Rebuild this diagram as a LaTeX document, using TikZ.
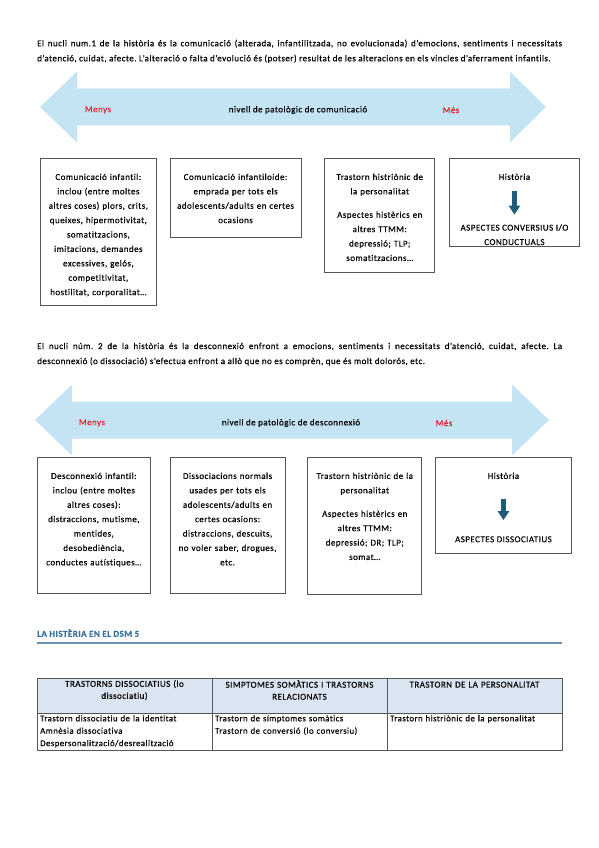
\documentclass[tikz,border=0pt]{standalone}
\usepackage{fontspec}
\setmainfont{Carlito}[LetterSpace=5, Ligatures=NoCommon, FakeBold=0.4]
\usepackage{tikz}
\usetikzlibrary{arrows.meta,positioning}
\frenchspacing

\definecolor{scaleblue}{HTML}{C4E4F4}
\definecolor{menysred}{HTML}{E3212B}
\definecolor{arrowteal}{HTML}{1F5C7A}
\definecolor{titleblue}{HTML}{3470A0}
\definecolor{titlerule}{HTML}{6F8DAE}
\definecolor{headfill}{HTML}{DBE5F1}
\definecolor{boxgray}{HTML}{555555}

\begin{document}
\begin{tikzpicture}[
  x=1pt, y=-1pt,
  para/.style={anchor=north west, inner sep=0pt, text width=525pt, align=justify, font=\fontsize{9}{15}\selectfont},
  box/.style={draw=boxgray, line width=0.7pt, inner sep=0pt, anchor=north west},
  boxtext/.style={inner sep=0pt, align=center, font=\fontsize{9}{14.4}\selectfont},
  scalelabel/.style={font=\fontsize{9}{10}\selectfont},
  tag/.style={scalelabel, text=menysred},
  blockarr/.style={arrowteal, line width=4.5pt, -{Triangle[width=11pt,length=9pt]}},
  hcell/.style={anchor=north, inner sep=0pt, text width=170pt, align=center, font=\fontsize{9}{12}\selectfont},
  bcell/.style={anchor=north west, inner sep=0pt, text width=170pt, align=left, font=\fontsize{8.8}{12.4}\selectfont}
]
  \useasboundingbox (0,0) rectangle (599,848);

  % nucli 1
  \node[para] (nucli1) at (37,39.5) {El nucli num.1 de la història és la comunicació (alterada, infantilitzada, no evolucionada) d'emocions, sentiments i necessitats\linebreak d'atenció, cuidat, afecte. L'alteració o falta d'evolució és (potser) resultat de les alteracions en els vincles d'aferrament infantils.};

  \fill[scaleblue] (40,107) -- (77,71.5) -- (77,88.5) -- (510,88.5) -- (510,71.5) -- (546,107)
    -- (510,142.5) -- (510,125.5) -- (77,125.5) -- (77,142.5) -- cycle;
  \node[tag] (menys1) at (98,110) {Menys};
  \node[scalelabel] (nivell1) at (298,110) {nivell de patològic de comunicació};
  \node[tag] (mes1) at (451,110) {Més};

  \node[box, minimum width=116pt, minimum height=147pt] (infbox) at (40,158) {};
  \node[boxtext, text width=114pt, below=15.5pt of infbox.north] (inf) {Comunicació infantil:\\inclou (entre moltes\\altres coses) plors, crits,\\queixes, hipermotivitat,\\somatitzacions,\\imitacions, demandes\\excessives, gelós,\\competitivitat,\\hostilitat, corporalitat…};

  \node[box, minimum width=131pt, minimum height=79pt, below right=0pt and 13pt of infbox.north east] (idbox) {};
  \node[boxtext, text width=129pt, below=15.5pt of idbox.north] (id) {Comunicació infantiloide:\\emprada per tots els\\adolescents/adults en certes\\ocasions};

  \node[box, minimum width=110pt, minimum height=114pt, below right=0pt and 23pt of idbox.north east] (tpbox1) {};
  \node[boxtext, text width=108pt, below=15.5pt of tpbox1.north] (tp1) {Trastorn histriònic de\\la personalitat\\[9pt]Aspectes histèrics en\\altres TTMM:\\depressió; TLP;\\somatitzacions…};

  \node[box, minimum width=130pt, minimum height=88pt, below right=0pt and 14pt of tpbox1.north east] (histbox1) {};
  \node[boxtext, below=15.5pt of histbox1.north] (hist1) {Història};
  \node[boxtext, below=44pt of hist1] (conv1) {ASPECTES CONVERSIUS I/O\\CONDUCTUALS};
  \draw[blockarr, shorten <=10.5pt, shorten >=9.5pt] (hist1) -- (conv1);

  % nucli 2
  \node[para] (nucli2) at (37,342.5) {El nucli núm. 2 de la història és la desconnexió enfront a emocions, sentiments i necessitats d'atenció, cuidat, afecte. La\linebreak desconnexió (o dissociació) s'efectua enfront a allò que no es comprèn, que és molt dolorós, etc.};

  \fill[scaleblue] (35,420) -- (72,384.5) -- (72,401.5) -- (512,401.5) -- (512,384.5) -- (549,420)
    -- (512,455.5) -- (512,438.5) -- (72,438.5) -- (72,455.5) -- cycle;
  \node[tag] (menys2) at (92,423) {Menys};
  \node[scalelabel] (nivell2) at (291,423) {nivell de patològic de desconnexió};
  \node[tag] (mes2) at (444,423) {Més};

  \node[box, minimum width=113pt, minimum height=136pt] (desbox) at (37,457) {};
  \node[boxtext, text width=111pt, below=15.5pt of desbox.north] (des) {Desconnexió infantil:\\inclou (entre moltes\\altres coses):\\distraccions, mutisme,\\mentides,\\desobediència,\\conductes autístiques…};

  \node[box, minimum width=115pt, minimum height=136pt, below right=0pt and 19pt of desbox.north east] (dnbox) {};
  \node[boxtext, text width=113pt, below=15.5pt of dnbox.north] (dn) {Dissociacions normals\\usades per tots els\\adolescents/adults en\\certes ocasions:\\distraccions, descuits,\\no voler saber, drogues,\\etc.};

  \node[box, minimum width=114pt, minimum height=137pt, below right=0pt and 22pt of dnbox.north east] (tpbox2) {};
  \node[boxtext, text width=112pt, below=15.5pt of tpbox2.north] (tp2) {Trastorn histriònic de la\\personalitat\\[9pt]Aspectes histèrics en\\altres TTMM:\\depressió; DR; TLP;\\somat…};

  \node[box, minimum width=136pt, minimum height=96pt, below right=0pt and 13pt of tpbox2.north east] (histbox2) {};
  \node[boxtext, below=15.5pt of histbox2.north] (hist2) {Història};
  \node[boxtext, below=57pt of hist2] (diss) {ASPECTES DISSOCIATIUS};
  \draw[blockarr, shorten <=19.5pt, shorten >=16pt] (hist2) -- (diss);

  % DSM 5
  \node[anchor=west, inner sep=0pt, font=\fontsize{9}{10}\selectfont\bfseries, text=titleblue] (dsm) at (37,633) {LA HISTÈRIA EN EL DSM 5};
  \draw[titlerule, line width=1.2pt] (37,643) -- (562,643);

  \fill[headfill] (37,678) rectangle (562,713);
  \draw[boxgray, line width=0.6pt] (37,678) rectangle (562,750) (37,713) -- (562,713)
    (212,678) -- (212,750) (387,678) -- (387,750);
  \node[hcell] (h1) at (124.5,680) {TRASTORNS DISSOCIATIUS (lo\\dissociatiu)};
  \node[hcell] (h2) at (299.5,680) {SIMPTOMES SOMÀTICS I TRASTORNS\\RELACIONATS};
  \node[hcell] (h3) at (474.5,681.5) {TRASTORN DE LA PERSONALITAT};
  \node[bcell] (c1) at (40,715) {Trastorn dissociatiu de la identitat\\Amnèsia dissociativa\\Despersonalització/desrealització};
  \node[bcell] (c2) at (215,715) {Trastorn de símptomes somàtics\\Trastorn de conversió (lo conversiu)};
  \node[bcell] (c3) at (390,715) {Trastorn histriònic de la personalitat};
\end{tikzpicture}
\end{document}
